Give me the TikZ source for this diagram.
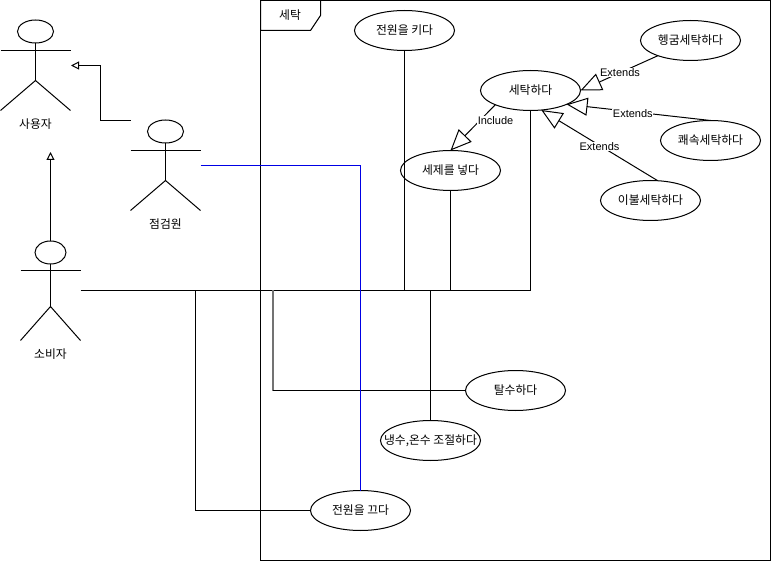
\documentclass[tikz,border=0pt]{standalone}
\usepackage{fontspec}
\setmainfont{Liberation Sans}
\newfontfamily\krfont{Noto Sans CJK KR}
\usetikzlibrary{shapes.geometric,arrows.meta}
\tikzset{
  line/.style={draw=black,line width=1pt},
  usecase/.style={ellipse,draw=black,line width=1pt,fill=white,minimum width=100pt,minimum height=40pt,inner sep=0pt,outer sep=0pt,font=\krfont\fontsize{11.8}{13}\selectfont},
  actorhead/.style={ellipse,draw=black,line width=1pt,fill=white,inner sep=0pt,outer sep=0pt},
  actorname/.style={font=\krfont\fontsize{11.8}{13}\selectfont,inner sep=0pt},
  framename/.style={font=\krfont\fontsize{11.8}{13}\selectfont,inner sep=0pt},
  generalize/.style={line,-{Triangle[open,length=8pt,width=8pt]}},
  relation/.style={line,-{Triangle[open,length=21pt,width=18pt]}},
  rellabel/.style={font=\fontsize{11}{13}\selectfont,fill=white,inner sep=0.5pt},
  blueline/.style={draw=blue!90!black,line width=1pt}
}
\begin{document}
\begin{tikzpicture}[x=1pt,y=-1pt]
\useasboundingbox (0,0) rectangle (771,561);
% system frame
\draw[line] (260.5,0.5) rectangle (770.5,560.5);
\draw[line] (260.5,0.5) -- (320.5,0.5) -- (320.5,15.5) -- (310.5,30.5) -- (260.5,30.5) -- cycle;
\node[framename] (frame) at (290,15) {세탁};
% free ends of the connectors
\coordinate (checkhand) at (200.5,165.5);
\coordinate (buyerhand) at (80.5,290.5);
\coordinate (spinbus) at (273,290.5);
\coordinate (spinturn) at (273,390.5);
\coordinate (offbus) at (195.5,290.5);
% use cases
\node[usecase] (power) at (404.5,30.5) {전원을 키다};
\node[usecase] (wash) at (530.5,90.5) {세탁하다};
\node[usecase] (rinse) at (690.5,40.5) {헹굼세탁하다};
\node[usecase] (speed) at (710.5,140.5) {쾌속세탁하다};
\node[usecase] (quilt) at (650.5,200.5) {이불세탁하다};
\node[usecase] (soap) at (450.5,170.5) {세제를 넣다};
\node[usecase] (spin) at (515.5,390.5) {탈수하다};
\node[usecase] (temp) at (430.5,440.5) {\makebox[0pt][c]{냉수,온수 조절하다}};
\node[usecase] (off) at (360.5,510.5) {전원을 끄다};
% actors
\node[actorhead,minimum width=36pt,minimum height=23pt] (userhead) at (35.5,31.5) {};
\draw[line] (userhead.south) -- (35.5,80.5) coordinate (userhip);
\draw[line] (0.5,50.5) -- (70.5,50.5);
\draw[line] (0.5,110.5) -- (userhip) -- (70.5,110.5);
\node[actorname] (user) at (35.5,124) {사용자};
\coordinate (usergen) at (71,65.5);
\coordinate (userbelow) at (50.5,152);
\node[actorhead,minimum width=36pt,minimum height=23pt] (checkhead) at (165.5,131.5) {};
\draw[line] (checkhead.south) -- (165.5,180.5) coordinate (checkhip);
\draw[line] (130.5,150.5) -- (200.5,150.5);
\draw[line] (130.5,210.5) -- (checkhip) -- (200.5,210.5);
\node[actorname] (check) at (165.5,224) {점검원};
\coordinate (checktop) at (130.5,120.5);
\node[actorhead,minimum width=31pt,minimum height=23pt] (buyerhead) at (50.5,252.5) {};
\draw[line] (buyerhead.south) -- (50.5,306.5) coordinate (buyerhip);
\draw[line] (20.5,270.5) -- (80.5,270.5);
\draw[line] (20.5,340.5) -- (buyerhip) -- (80.5,340.5);
\node[actorname] (buyer) at (50.5,354) {소비자};
% generalisations
\draw[generalize] (checktop) -| (100.5,65.5) -- (usergen);
\draw[generalize] (buyerhead.north) -- (userbelow);
% associations
\draw[line] (buyerhand) -| (wash.south);
\draw[line] (power.south) -- (power.south |- buyerhand);
\draw[line] (soap.south) -- (soap.south |- buyerhand);
\draw[line] (temp.north) -- (temp.north |- buyerhand);
\draw[draw=black!55,line width=2pt] (spinbus) -- (spinturn);
\draw[line] (spinturn) -- (spin.west);
\draw[line] (offbus) |- (off.west);
\draw[blueline] (checkhand) -| (off.north);
% include and extend
\draw[relation] (wash.202) -- node[rellabel,pos=.33,xshift=15pt,yshift=-1pt] (inc) {Include} (soap.north);
\draw[relation] (rinse.205) -- node[rellabel,pos=.49] (ext1) {Extends} (wash.0);
\draw[relation] (speed.north) -- node[rellabel,pos=.54,yshift=-1.5pt] (ext2) {Extends} (wash.-21);
\draw[relation] (quilt.70) -- node[rellabel,pos=.5,yshift=-1.5pt] (ext3) {Extends} (wash.-61);
\end{tikzpicture}
\end{document}
